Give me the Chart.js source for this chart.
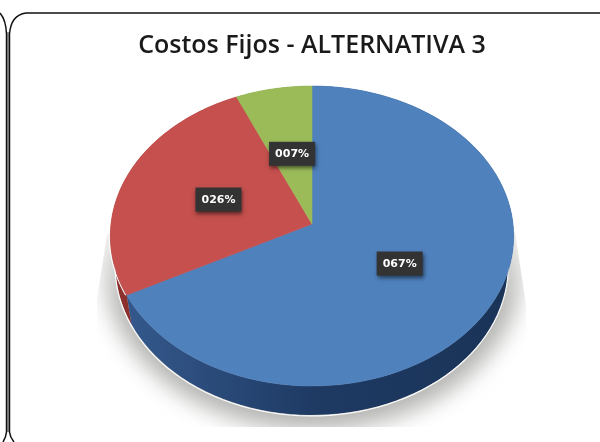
<!DOCTYPE html>
<html>
<head>
<meta charset="utf-8">
<style>
  html, body { margin: 0; padding: 0; background: #fff; }
  #wrap { position: relative; width: 600px; height: 442px; }
</style>
</head>
<body>
<div id="wrap"><canvas id="grafico" width="600" height="442"></canvas></div>
<script src="https://cdn.jsdelivr.net/npm/chart.js@4"></script>
<script>
// Datos
const titulo = 'Costos Fijos - ALTERNATIVA 3';
const categorias = ['Azul', 'Rojo', 'Verde'];
const valores = [67.4, 26.0, 6.6];
const etiquetas = ['067%', '026%', '007%'];
const colores = ['#4f81bd', '#c5504e', '#9bbb59'];
const coloresLado = ['#274a7c', '#8c302e', '#6f8a3c'];

// Vista en perspectiva del pastel
const vista = { centroY: 224, radioY: 149, k: -0.08, grosor: 29, escalaLado: 0.975 };

function proyectar(el, ang, t) {
  const u = Math.cos(ang) * t, v = Math.sin(ang) * t;
  const d = 1 + vista.k * v;
  return { x: el.x + el.outerRadius * u / d, y: vista.centroY + vista.radioY * v / d };
}

// puntos del borde exterior de un arco; con lado=true, el borde inferior del grosor
function bordeArco(el, lado) {
  const pts = [];
  for (let i = 0; i <= 90; i++) {
    const a = el.startAngle + (el.endAngle - el.startAngle) * i / 90;
    const p = proyectar(el, a, 1);
    if (lado) {
      pts.push({ x: el.x + (p.x - el.x) * vista.escalaLado, y: p.y + vista.grosor });
    } else {
      pts.push(p);
    }
  }
  return pts;
}

// Marco de la hoja (linea doble a la izquierda)
const marco = {
  id: 'marco',
  beforeDraw(chart) {
    const c = chart.ctx;
    c.save();
    c.strokeStyle = '#999';
    c.lineWidth = 2;
    c.beginPath();
    c.moveTo(8, 32); c.lineTo(8, 432);
    c.stroke();
    c.strokeStyle = '#111';
    c.lineWidth = 1.5;
    c.beginPath();
    c.moveTo(600, 13); c.lineTo(26, 13);
    c.quadraticCurveTo(11, 15, 9.5, 34);
    c.lineTo(9.5, 432);
    c.quadraticCurveTo(10, 437, 14, 442);
    c.moveTo(0, 13);
    c.quadraticCurveTo(6, 20, 6.5, 34);
    c.lineTo(6.5, 432);
    c.quadraticCurveTo(6, 437, 3, 442);
    c.stroke();
    c.restore();
  }
};

// Dibuja sombra, lado y cara superior a partir de los arcos que calcula Chart.js
const pastel3d = {
  id: 'pastel3d',
  beforeDatasetsDraw(chart) {
    const c = chart.ctx;
    const arcos = chart.getDatasetMeta(0).data;
    const el = arcos[0];
    const cy = vista.centroY;

    // sombra
    c.save();
    c.beginPath();
    c.moveTo(el.x - 205, cy + 10);
    c.lineTo(el.x + 203, cy + 8);
    c.lineTo(el.x + 214, cy + 80);
    c.lineTo(el.x + 214, cy + 203);
    c.lineTo(el.x - 215, cy + 203);
    c.lineTo(el.x - 215, cy + 75);
    c.closePath();
    c.clip();
    c.filter = 'blur(11px)';
    const gs = c.createLinearGradient(0, cy + 5, 0, cy + 80);
    gs.addColorStop(0, '#e4e4e2');
    gs.addColorStop(1, '#b4b4b2');
    c.fillStyle = gs;
    c.beginPath();
    c.ellipse(el.x + 1, cy + 42, el.outerRadius + 8, vista.radioY + 15, 0, 0, Math.PI * 2);
    c.fill();
    c.restore();

    // lado
    arcos.forEach((a, i) => {
      const pts = bordeArco(a, false).concat(bordeArco(a, true).reverse());
      let relleno = coloresLado[i];
      if (i === 0) {
        const g = c.createLinearGradient(el.x - 190, 0, el.x + 200, 0);
        g.addColorStop(0, '#35598d');
        g.addColorStop(0.5, '#1e3a63');
        g.addColorStop(1, '#1a3357');
        relleno = g;
      }
      c.fillStyle = relleno;
      c.beginPath();
      pts.forEach((p, j) => j ? c.lineTo(p.x, p.y) : c.moveTo(p.x, p.y));
      c.closePath();
      c.fill();
    });

    // filo blanco del lado
    c.strokeStyle = 'rgba(255,255,255,0.95)';
    c.lineWidth = 1.2;
    c.beginPath();
    arcos.slice(0, 2).forEach(a => {
      bordeArco(a, true).forEach(p => {
        if (p.y > cy + vista.grosor + 8) c.lineTo(p.x - 0.3, p.y + 1);
      });
    });
    c.stroke();
    // filo junto a la cara, a la izquierda
    c.beginPath();
    bordeArco(arcos[1], false).forEach(p => {
      if (p.y > cy + 6) c.lineTo(p.x - 1, p.y);
    });
    c.stroke();

    // cara superior
    arcos.forEach((a, i) => {
      c.fillStyle = colores[i];
      c.strokeStyle = colores[i];
      c.lineWidth = 0.6;
      c.beginPath();
      const centro = proyectar(a, 0, 0);
      c.moveTo(centro.x, centro.y);
      bordeArco(a, false).forEach(p => c.lineTo(p.x, p.y));
      c.closePath();
      c.fill();
      c.stroke();
    });

    // etiquetas
    arcos.forEach((a, i) => {
      const p = proyectar(a, (a.startAngle + a.endAngle) / 2, 0.5);
      c.save();
      c.shadowColor = 'rgba(0,0,0,0.55)';
      c.shadowBlur = 4;
      c.shadowOffsetX = 1;
      c.shadowOffsetY = 2;
      c.fillStyle = '#333333';
      c.fillRect(p.x - 23, p.y - 12, 46, 24);
      c.restore();
      c.fillStyle = '#fff';
      c.font = 'bold 11px "DejaVu Sans"';
      c.textAlign = 'center';
      c.textBaseline = 'middle';
      c.fillText(etiquetas[i], p.x, p.y + 0.5);
    });
    return false;
  }
};

const chart = new Chart(document.getElementById('grafico').getContext('2d'), {
  type: 'pie',
  data: {
    labels: categorias,
    datasets: [{ data: valores, backgroundColor: colores, borderWidth: 0 }]
  },
  options: {
    responsive: false,
    animation: false,
    radius: 201,
    layout: { padding: { left: 24 } },
    plugins: {
      legend: { display: false },
      tooltip: { enabled: false },
      title: {
        display: true,
        text: titulo,
        fullSize: false,
        color: '#1a1a1a',
        font: { family: '"Open Sans"', size: 25, weight: '600' },
        padding: { top: 31, bottom: 0 }
      }
    }
  },
  plugins: [marco, pastel3d]
});
</script>
</body>
</html>
